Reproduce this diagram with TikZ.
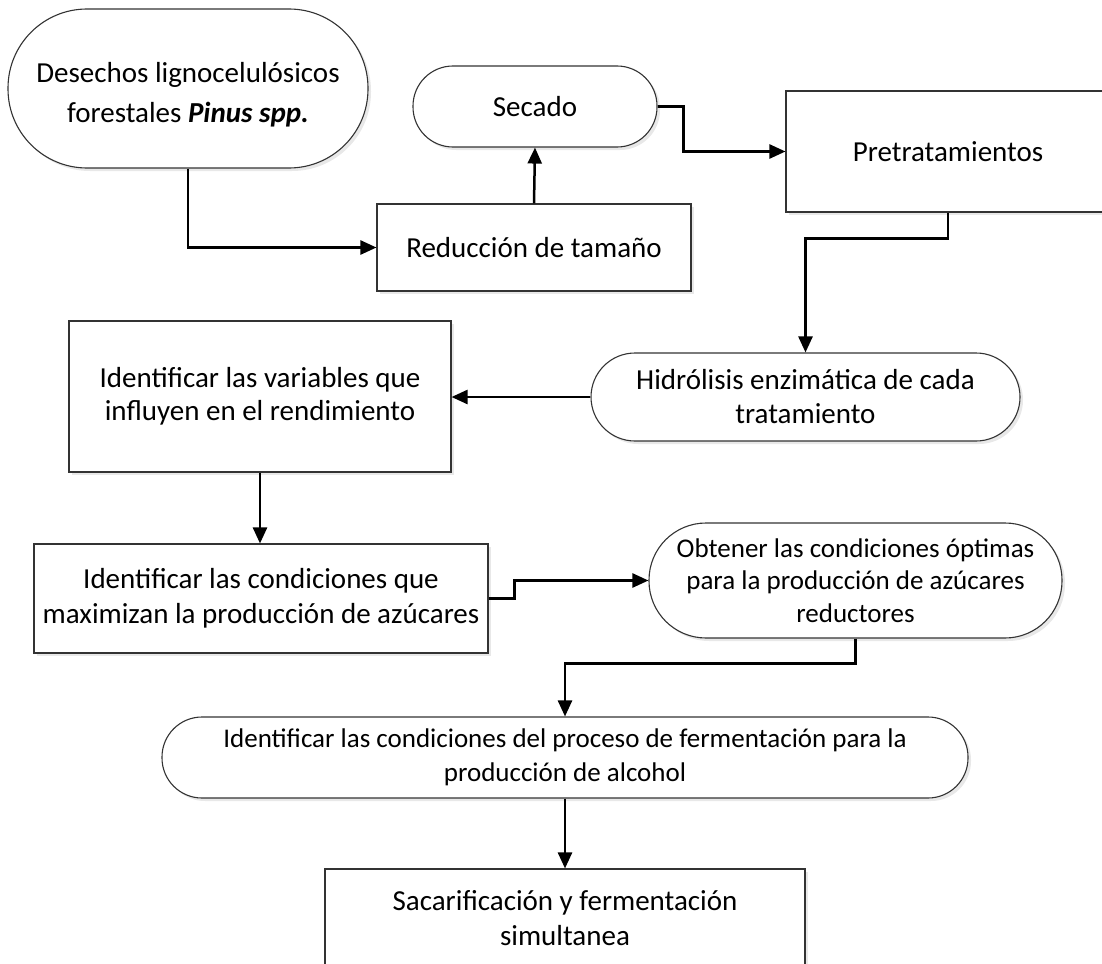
\documentclass[tikz,border=0pt]{standalone}
\usepackage{fontspec}
\setmainfont{Carlito}
\usetikzlibrary{arrows.meta,shadows}
\begin{document}
\begin{tikzpicture}[x=1pt,y=-1pt,
  every node/.style={align=center, inner sep=0pt, font=\fontsize{29}{35}\selectfont},
  softshadow/.style={drop shadow={shadow xshift=3pt, shadow yshift=-3pt, fill=black!9, opacity=1}},
  procbox/.style={draw=black!80, line width=1.1pt, rectangle, fill=white, softshadow},
  term/.style={draw=black!80, line width=1.1pt, rectangle, rounded corners=#1, fill=white, softshadow},
  conn/.style={line width=2.5pt, -{Triangle[length=16pt,width=14pt]}},
]
\useasboundingbox (0,0) rectangle (1102,963);

\node[term=79pt, minimum width=360pt, minimum height=159pt,
  label={[yshift=-6pt, align=center, font=\fontsize{29}{40}\selectfont]center:{Desechos lignocelulósicos\\forestales \textbf{\textit{Pinus spp.}}}}] (des) at (188,88.5) {};
\node[procbox, minimum width=314pt, minimum height=87pt] (red) at (534,247.5) {Reducción de tamaño};
\node[term=40pt, minimum width=244pt, minimum height=81pt] (sec) at (535,106.5) {Secado};
\node[procbox, minimum width=324pt, minimum height=121pt] (pre) at (948,151.5) {Pretratamientos};
\node[term=44pt, minimum width=429pt, minimum height=88pt, font=\fontsize{29}{34}\selectfont] (hid) at (805.5,397)
  {Hidrólisis enzimática de cada\\tratamiento};
\node[procbox, minimum width=382pt, minimum height=151pt, font=\fontsize{29}{33}\selectfont] (var) at (260,396.5)
  {Identificar las variables que\\influyen en el rendimiento};
\node[procbox, minimum width=454pt, minimum height=109pt] (cond) at (261,598.5)
  {Identificar las condiciones que\\maximizan la producción de azúcares};
\node[term=57pt, minimum width=413pt, minimum height=115pt, font=\fontsize{27}{32.5}\selectfont] (obt) at (855.5,580.5)
  {Obtener las condiciones óptimas\\para la producción de azúcares\\reductores};
\node[term=40pt, minimum width=806pt, minimum height=81pt, font=\fontsize{27}{34}\selectfont] (alc) at (565,757.5)
  {Identificar las condiciones del proceso de fermentación para la\\producción de alcohol};
\node[procbox, minimum width=480pt, minimum height=98pt] (sac) at (565,918)
  {Sacarificación y fermentación\\simultanea};

\draw[conn] (des.south) |- (red.west);
\draw[conn] (red.north) -- (sec.south);
\draw[conn] (sec.east) -- ++(26,0) |- (pre.west);
\draw[conn] (pre.south) -- ++(0,26) -| (hid.north);
\draw[conn] (hid.west) -- (var.east |- hid.west);
\draw[conn] (var.south) -- (var.south |- cond.north);
\draw[conn] (cond.east) -- ++(26,0) |- (obt.west);
\draw[conn] (obt.south) -- ++(0,25) -| (alc.north);
\draw[conn] (alc.south) -- (sac.north);
\end{tikzpicture}
\end{document}
